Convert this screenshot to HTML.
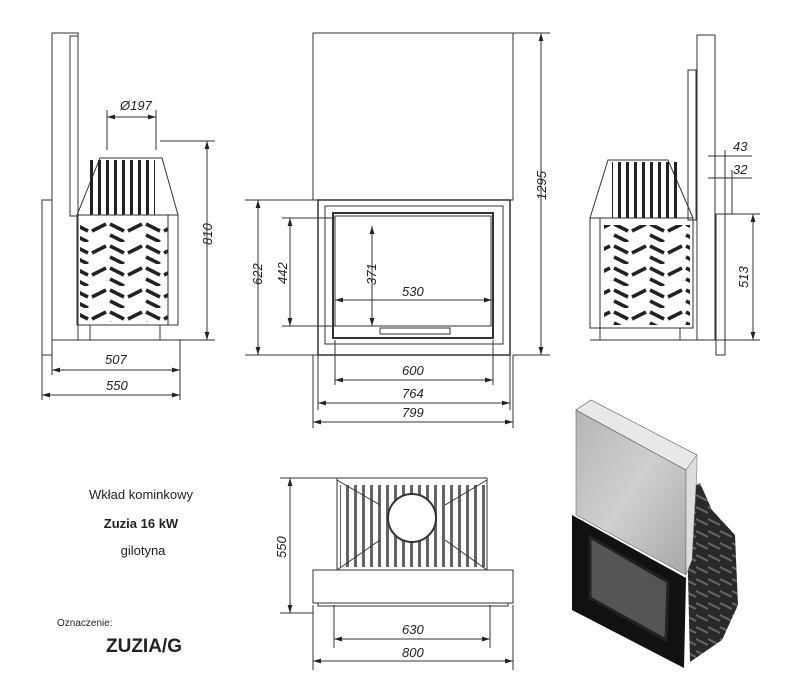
<!DOCTYPE html>
<html><head><meta charset="utf-8"><style>
body{margin:0;background:#fff;width:800px;height:700px;overflow:hidden}
svg{display:block}
text{font-family:"Liberation Sans",sans-serif;fill:#222}
.d{font-style:italic;font-size:13px}
</style></head><body>
<svg width="800" height="700" viewBox="0 0 800 700" xmlns="http://www.w3.org/2000/svg">
<defs>
<marker id="a" viewBox="0 0 10 6" refX="10" refY="3" markerWidth="8" markerHeight="5" orient="auto-start-reverse"><path d="M0,0L10,3L0,6z" fill="#222"/></marker>
<pattern id="chev" width="36" height="22" patternUnits="userSpaceOnUse">
<path d="M2,4L16,11M20,11L34,4M2,15L16,22" stroke="#222" stroke-width="3.5"/>
</pattern>
<pattern id="fins" width="8" height="10" patternUnits="userSpaceOnUse"><rect x="2" width="3" height="10" fill="#222"/></pattern>
<pattern id="cast" width="12" height="12" patternUnits="userSpaceOnUse"><rect width="12" height="12" fill="#2a2a2a"/><path d="M0,3L12,9" stroke="#666" stroke-width="2"/></pattern>
<linearGradient id="g" x1="0" y1="0" x2="1" y2="1"><stop offset="0" stop-color="#b5b5b5"/><stop offset=".5" stop-color="#cfcfcf"/><stop offset="1" stop-color="#a8a8a8"/></linearGradient>
</defs>
<g fill="none" stroke="#333" stroke-width="1">
<!-- LEFT VIEW -->
<rect x="52" y="33" width="26" height="307"/>
<rect x="70" y="36" width="8" height="180"/>
<rect x="42" y="200" width="10" height="155"/>
<path d="M77,215L100,158H162L178,215"/>
<rect x="85" y="160" width="70" height="55" fill="url(#fins)" stroke="none"/>
<rect x="77" y="215" width="101" height="110"/>
<rect x="80" y="222" width="88" height="100" fill="url(#chev)" stroke="none"/>
<rect x="168" y="215" width="10" height="110"/>
<path d="M90,325V340H160V325M77,340H180"/>
<line x1="107" y1="110" x2="107" y2="150"/><line x1="156" y1="110" x2="156" y2="150"/>
<line x1="107" y1="117" x2="156" y2="117" marker-start="url(#a)" marker-end="url(#a)"/>
<line x1="160" y1="141" x2="215" y2="141"/><line x1="180" y1="340" x2="215" y2="340"/>
<line x1="207" y1="141" x2="207" y2="340" marker-start="url(#a)" marker-end="url(#a)"/>
<line x1="52" y1="340" x2="52" y2="375"/><line x1="42" y1="355" x2="42" y2="400"/><line x1="180" y1="340" x2="180" y2="400"/>
<line x1="52" y1="370" x2="180" y2="370" marker-start="url(#a)" marker-end="url(#a)"/>
<line x1="42" y1="395" x2="180" y2="395" marker-start="url(#a)" marker-end="url(#a)"/>
<!-- CENTER FRONT -->
<rect x="313" y="33" width="200" height="167"/>
<rect x="318" y="200" width="192" height="155" stroke-width="1.5"/>
<rect x="325" y="206" width="178" height="138"/>
<rect x="333" y="213" width="160" height="125" stroke-width="2"/>
<rect x="335" y="216" width="156" height="110"/>
<rect x="380" y="328" width="70" height="6"/>
<line x1="245" y1="200" x2="318" y2="200"/><line x1="245" y1="355" x2="318" y2="355"/>
<line x1="258" y1="200" x2="258" y2="355" marker-start="url(#a)" marker-end="url(#a)"/>
<line x1="282" y1="218" x2="335" y2="218"/><line x1="282" y1="326" x2="335" y2="326"/>
<line x1="290" y1="218" x2="290" y2="326" marker-start="url(#a)" marker-end="url(#a)"/>
<line x1="372" y1="226" x2="372" y2="326" marker-start="url(#a)" marker-end="url(#a)"/>
<line x1="335" y1="300" x2="492" y2="300" marker-start="url(#a)" marker-end="url(#a)"/>
<line x1="335" y1="340" x2="335" y2="385"/><line x1="493" y1="340" x2="493" y2="385"/>
<line x1="318" y1="355" x2="318" y2="410"/><line x1="510" y1="355" x2="510" y2="410"/>
<line x1="313" y1="355" x2="313" y2="428"/><line x1="513" y1="355" x2="513" y2="428"/>
<line x1="335" y1="380" x2="493" y2="380" marker-start="url(#a)" marker-end="url(#a)"/>
<line x1="318" y1="403" x2="510" y2="403" marker-start="url(#a)" marker-end="url(#a)"/>
<line x1="313" y1="422" x2="513" y2="422" marker-start="url(#a)" marker-end="url(#a)"/>
<line x1="513" y1="33" x2="550" y2="33"/><line x1="513" y1="355" x2="550" y2="355"/>
<line x1="541" y1="33" x2="541" y2="355" marker-start="url(#a)" marker-end="url(#a)"/>
<!-- RIGHT VIEW -->
<rect x="697" y="35" width="18" height="305"/>
<rect x="688" y="70" width="8" height="150"/>
<rect x="716" y="214" width="9" height="141"/>
<path d="M590,218L608,160H668L693,218"/>
<rect x="612" y="162" width="70" height="56" fill="url(#fins)" stroke="none"/>
<rect x="590" y="218" width="103" height="110"/>
<rect x="604" y="225" width="86" height="100" fill="url(#chev)" stroke="none"/>
<rect x="590" y="218" width="10" height="110"/>
<path d="M600,328V340H680V328M590,340H697"/>
<line x1="725" y1="214" x2="760" y2="214"/><line x1="715" y1="340" x2="760" y2="340"/>
<line x1="753" y1="214" x2="753" y2="340" marker-start="url(#a)" marker-end="url(#a)"/>
<line x1="708" y1="156" x2="752" y2="156"/><line x1="708" y1="178" x2="752" y2="178"/>
<line x1="725" y1="150" x2="725" y2="214"/><line x1="732" y1="170" x2="732" y2="214"/>
<!-- TOP VIEW -->
<rect x="337" y="478" width="150" height="92"/>
<rect x="340" y="485" width="145" height="82" fill="url(#fins)" stroke="none" opacity=".7"/>
<circle cx="412" cy="518" r="24" fill="#fff" stroke-width="2"/>
<path d="M337,480L380,505M487,480L445,505M337,570L380,540M487,570L445,540"/>
<rect x="313" y="570" width="200" height="33"/>
<rect x="318" y="603" width="190" height="3"/>
<line x1="280" y1="478" x2="337" y2="478"/><line x1="280" y1="613" x2="313" y2="613"/>
<line x1="290" y1="478" x2="290" y2="613" marker-start="url(#a)" marker-end="url(#a)"/>
<line x1="334" y1="605" x2="334" y2="648"/><line x1="490" y1="605" x2="490" y2="648"/>
<line x1="313" y1="605" x2="313" y2="670"/><line x1="513" y1="605" x2="513" y2="670"/>
<line x1="334" y1="639" x2="490" y2="639" marker-start="url(#a)" marker-end="url(#a)"/>
<line x1="313" y1="661" x2="513" y2="661" marker-start="url(#a)" marker-end="url(#a)"/>
</g>
<!-- 3D -->
<g>
<path d="M686,490L700,483L712,510L735,535L738,605L722,640L690,662Z" fill="url(#cast)"/>
<path d="M572,515L686,578L684,668L572,610Z" fill="#111"/>
<path d="M590,537L668,582L666,640L590,598Z" fill="#555" stroke="#222" stroke-width="3"/>
<path d="M576,410L686,470L686,575L576,515Z" fill="url(#g)" stroke="#666" stroke-width=".6"/>
<path d="M576,410L591,400L697,455L686,470Z" fill="#e8e8e8" stroke="#555" stroke-width=".6"/>
<path d="M686,470L697,455L697,468L692,560L686,575Z" fill="#ddd" stroke="#666" stroke-width=".5"/>
</g>
<!-- TEXT -->
<text class="d" x="120" y="110">Ø197</text>
<text class="d" transform="translate(212,245) rotate(-90)">810</text>
<text class="d" x="105" y="364">507</text>
<text class="d" x="106" y="390">550</text>
<text class="d" transform="translate(262,285) rotate(-90)">622</text>
<text class="d" transform="translate(287,284) rotate(-90)">442</text>
<text class="d" transform="translate(376,285) rotate(-90)">371</text>
<text class="d" x="402" y="296">530</text>
<text class="d" x="402" y="375">600</text>
<text class="d" x="402" y="398">764</text>
<text class="d" x="402" y="417">799</text>
<text class="d" transform="translate(546,200) rotate(-90)">1295</text>
<text class="d" x="733" y="151">43</text>
<text class="d" x="733" y="174">32</text>
<text class="d" transform="translate(748,288) rotate(-90)">513</text>
<text class="d" transform="translate(286,558) rotate(-90)">550</text>
<text class="d" x="402" y="634">630</text>
<text class="d" x="402" y="657">800</text>
<text x="141" y="499" font-size="13" text-anchor="middle">Wkład kominkowy</text>
<text x="141" y="528" font-size="13" font-weight="bold" text-anchor="middle">Zuzia 16 kW</text>
<text x="143" y="555" font-size="13" text-anchor="middle">gilotyna</text>
<text x="57" y="626" font-size="10">Oznaczenie:</text>
<text x="106" y="652" font-size="19" font-weight="bold">ZUZIA/G</text>
</svg>
</body></html>
